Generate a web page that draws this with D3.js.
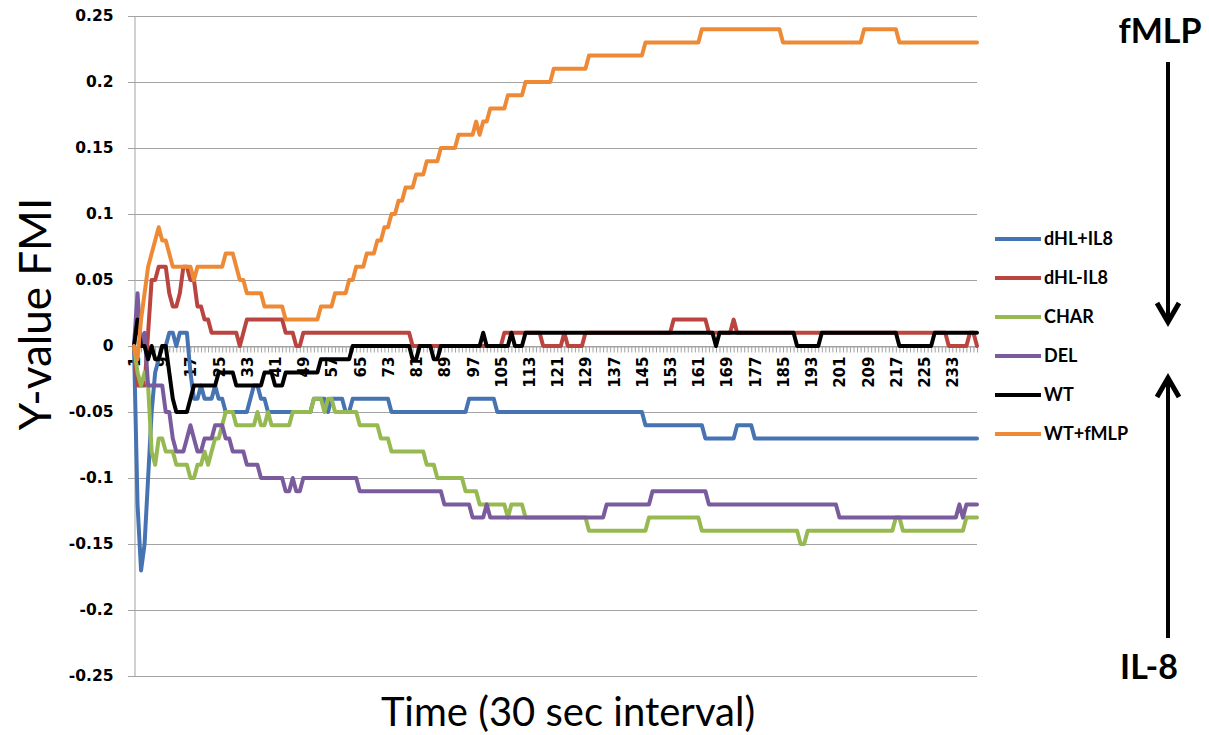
<!DOCTYPE html>
<html>
<head>
<meta charset="utf-8">
<script src="https://cdn.jsdelivr.net/npm/d3@7"></script>
<style>
  body { margin: 0; background: #fff; }
  svg { display: block; }
</style>
</head>
<body>
<svg id="chart" width="1209" height="735"></svg>
<script>
// Time points (30 sec intervals)
const timePoints = d3.range(1, 241);
const xTickLabels = [1, 9, 17, 25, 33, 41, 49, 57, 65, 73, 81, 89, 97, 105, 113, 121, 129, 137, 145, 153, 161, 169, 177, 185, 193, 201, 209, 217, 225, 233];
const yTicks = [0.25, 0.2, 0.15, 0.1, 0.05, 0, -0.05, -0.1, -0.15, -0.2, -0.25];

// FMI (y-value) per time point, one array per condition
const dHL_plus_IL8 = [
  0,-0.12,-0.17,-0.15,-0.1,-0.05,-0.02,-0.01,0,0,0.01,0.01,0,0.01,0.01,0.01,-0.02,-0.04,-0.04,-0.03,
  -0.04,-0.04,-0.04,-0.03,-0.04,-0.04,-0.05,-0.05,-0.05,-0.05,-0.05,-0.05,-0.05,-0.04,-0.03,-0.03,-0.04,-0.04,-0.05,-0.05,
  -0.05,-0.05,-0.05,-0.05,-0.05,-0.05,-0.05,-0.05,-0.05,-0.05,-0.05,-0.04,-0.04,-0.04,-0.04,-0.05,-0.04,-0.04,-0.04,-0.04,
  -0.05,-0.05,-0.04,-0.04,-0.04,-0.04,-0.04,-0.04,-0.04,-0.04,-0.04,-0.04,-0.04,-0.05,-0.05,-0.05,-0.05,-0.05,-0.05,-0.05,
  -0.05,-0.05,-0.05,-0.05,-0.05,-0.05,-0.05,-0.05,-0.05,-0.05,-0.05,-0.05,-0.05,-0.05,-0.05,-0.04,-0.04,-0.04,-0.04,-0.04,
  -0.04,-0.04,-0.04,-0.05,-0.05,-0.05,-0.05,-0.05,-0.05,-0.05,-0.05,-0.05,-0.05,-0.05,-0.05,-0.05,-0.05,-0.05,-0.05,-0.05,
  -0.05,-0.05,-0.05,-0.05,-0.05,-0.05,-0.05,-0.05,-0.05,-0.05,-0.05,-0.05,-0.05,-0.05,-0.05,-0.05,-0.05,-0.05,-0.05,-0.05,
  -0.05,-0.05,-0.05,-0.05,-0.05,-0.06,-0.06,-0.06,-0.06,-0.06,-0.06,-0.06,-0.06,-0.06,-0.06,-0.06,-0.06,-0.06,-0.06,-0.06,
  -0.06,-0.06,-0.07,-0.07,-0.07,-0.07,-0.07,-0.07,-0.07,-0.07,-0.07,-0.06,-0.06,-0.06,-0.06,-0.06,-0.07,-0.07,-0.07,-0.07,
  -0.07,-0.07,-0.07,-0.07,-0.07,-0.07,-0.07,-0.07,-0.07,-0.07,-0.07,-0.07,-0.07,-0.07,-0.07,-0.07,-0.07,-0.07,-0.07,-0.07,
  -0.07,-0.07,-0.07,-0.07,-0.07,-0.07,-0.07,-0.07,-0.07,-0.07,-0.07,-0.07,-0.07,-0.07,-0.07,-0.07,-0.07,-0.07,-0.07,-0.07,
  -0.07,-0.07,-0.07,-0.07,-0.07,-0.07,-0.07,-0.07,-0.07,-0.07,-0.07,-0.07,-0.07,-0.07,-0.07,-0.07,-0.07,-0.07,-0.07,-0.07
];

const dHL_minus_IL8 = [
  0,-0.03,-0.03,-0.03,0.01,0.05,0.05,0.06,0.06,0.06,0.04,0.03,0.03,0.04,0.06,0.06,0.05,0.05,0.03,0.03,
  0.02,0.02,0.01,0.01,0.01,0.01,0.01,0.01,0.01,0.01,0,0.01,0.02,0.02,0.02,0.02,0.02,0.02,0.02,0.02,
  0.02,0.02,0.02,0.01,0.01,0.01,0,0,0.01,0.01,0.01,0.01,0.01,0.01,0.01,0.01,0.01,0.01,0.01,0.01,
  0.01,0.01,0.01,0.01,0.01,0.01,0.01,0.01,0.01,0.01,0.01,0.01,0.01,0.01,0.01,0.01,0.01,0.01,0.01,0,
  0,0,0,0,0,0,0,0,0,0,0,0,0,0,0,0,0,0,0,0,
  0,0,0,0,0,0.01,0.01,0.01,0.01,0.01,0.01,0.01,0.01,0.01,0.01,0.01,0,0,0,0,
  0,0,0.01,0,0,0,0,0,0.01,0.01,0.01,0.01,0.01,0.01,0.01,0.01,0.01,0.01,0.01,0.01,
  0.01,0.01,0.01,0.01,0.01,0.01,0.01,0.01,0.01,0.01,0.01,0.01,0.01,0.02,0.02,0.02,0.02,0.02,0.02,0.02,
  0.02,0.02,0.02,0.01,0.01,0.01,0.01,0.01,0.01,0.01,0.02,0.01,0.01,0.01,0.01,0.01,0.01,0.01,0.01,0.01,
  0.01,0.01,0.01,0.01,0.01,0.01,0.01,0.01,0.01,0.01,0.01,0.01,0.01,0.01,0.01,0.01,0.01,0.01,0.01,0.01,
  0.01,0.01,0.01,0.01,0.01,0.01,0.01,0.01,0.01,0.01,0.01,0.01,0.01,0.01,0.01,0.01,0.01,0.01,0.01,0.01,
  0.01,0.01,0.01,0.01,0.01,0.01,0.01,0.01,0.01,0.01,0.01,0,0,0,0,0,0,0.01,0.01,0
];

const CHAR = [
  0,-0.02,-0.03,-0.02,-0.03,-0.08,-0.09,-0.07,-0.07,-0.08,-0.08,-0.08,-0.09,-0.09,-0.09,-0.09,-0.1,-0.1,-0.09,-0.09,
  -0.08,-0.09,-0.08,-0.07,-0.07,-0.06,-0.05,-0.05,-0.05,-0.06,-0.06,-0.06,-0.06,-0.06,-0.06,-0.05,-0.06,-0.06,-0.05,-0.06,
  -0.06,-0.06,-0.06,-0.06,-0.06,-0.05,-0.05,-0.05,-0.05,-0.05,-0.05,-0.04,-0.04,-0.04,-0.05,-0.04,-0.04,-0.05,-0.05,-0.05,
  -0.05,-0.05,-0.05,-0.05,-0.06,-0.06,-0.06,-0.06,-0.06,-0.06,-0.07,-0.07,-0.07,-0.08,-0.08,-0.08,-0.08,-0.08,-0.08,-0.08,
  -0.08,-0.08,-0.08,-0.09,-0.09,-0.09,-0.1,-0.1,-0.1,-0.1,-0.1,-0.1,-0.1,-0.1,-0.11,-0.11,-0.11,-0.11,-0.12,-0.12,
  -0.12,-0.12,-0.12,-0.12,-0.12,-0.12,-0.13,-0.12,-0.12,-0.12,-0.12,-0.13,-0.13,-0.13,-0.13,-0.13,-0.13,-0.13,-0.13,-0.13,
  -0.13,-0.13,-0.13,-0.13,-0.13,-0.13,-0.13,-0.13,-0.13,-0.14,-0.14,-0.14,-0.14,-0.14,-0.14,-0.14,-0.14,-0.14,-0.14,-0.14,
  -0.14,-0.14,-0.14,-0.14,-0.14,-0.14,-0.13,-0.13,-0.13,-0.13,-0.13,-0.13,-0.13,-0.13,-0.13,-0.13,-0.13,-0.13,-0.13,-0.13,
  -0.13,-0.14,-0.14,-0.14,-0.14,-0.14,-0.14,-0.14,-0.14,-0.14,-0.14,-0.14,-0.14,-0.14,-0.14,-0.14,-0.14,-0.14,-0.14,-0.14,
  -0.14,-0.14,-0.14,-0.14,-0.14,-0.14,-0.14,-0.14,-0.14,-0.15,-0.15,-0.14,-0.14,-0.14,-0.14,-0.14,-0.14,-0.14,-0.14,-0.14,
  -0.14,-0.14,-0.14,-0.14,-0.14,-0.14,-0.14,-0.14,-0.14,-0.14,-0.14,-0.14,-0.14,-0.14,-0.14,-0.14,-0.13,-0.13,-0.14,-0.14,
  -0.14,-0.14,-0.14,-0.14,-0.14,-0.14,-0.14,-0.14,-0.14,-0.14,-0.14,-0.14,-0.14,-0.14,-0.14,-0.14,-0.13,-0.13,-0.13,-0.13
];

const DEL = [
  0,0.04,0,0.01,-0.03,-0.03,-0.03,-0.03,-0.03,-0.05,-0.05,-0.07,-0.08,-0.08,-0.08,-0.07,-0.06,-0.07,-0.08,-0.08,
  -0.07,-0.07,-0.07,-0.06,-0.06,-0.06,-0.07,-0.07,-0.08,-0.08,-0.08,-0.08,-0.09,-0.09,-0.09,-0.09,-0.1,-0.1,-0.1,-0.1,
  -0.1,-0.1,-0.1,-0.11,-0.11,-0.1,-0.11,-0.11,-0.1,-0.1,-0.1,-0.1,-0.1,-0.1,-0.1,-0.1,-0.1,-0.1,-0.1,-0.1,
  -0.1,-0.1,-0.1,-0.1,-0.11,-0.11,-0.11,-0.11,-0.11,-0.11,-0.11,-0.11,-0.11,-0.11,-0.11,-0.11,-0.11,-0.11,-0.11,-0.11,
  -0.11,-0.11,-0.11,-0.11,-0.11,-0.11,-0.11,-0.11,-0.12,-0.12,-0.12,-0.12,-0.12,-0.12,-0.12,-0.12,-0.13,-0.13,-0.13,-0.13,
  -0.12,-0.13,-0.13,-0.13,-0.13,-0.13,-0.13,-0.13,-0.13,-0.13,-0.13,-0.13,-0.13,-0.13,-0.13,-0.13,-0.13,-0.13,-0.13,-0.13,
  -0.13,-0.13,-0.13,-0.13,-0.13,-0.13,-0.13,-0.13,-0.13,-0.13,-0.13,-0.13,-0.13,-0.13,-0.12,-0.12,-0.12,-0.12,-0.12,-0.12,
  -0.12,-0.12,-0.12,-0.12,-0.12,-0.12,-0.12,-0.11,-0.11,-0.11,-0.11,-0.11,-0.11,-0.11,-0.11,-0.11,-0.11,-0.11,-0.11,-0.11,
  -0.11,-0.11,-0.11,-0.12,-0.12,-0.12,-0.12,-0.12,-0.12,-0.12,-0.12,-0.12,-0.12,-0.12,-0.12,-0.12,-0.12,-0.12,-0.12,-0.12,
  -0.12,-0.12,-0.12,-0.12,-0.12,-0.12,-0.12,-0.12,-0.12,-0.12,-0.12,-0.12,-0.12,-0.12,-0.12,-0.12,-0.12,-0.12,-0.12,-0.12,
  -0.13,-0.13,-0.13,-0.13,-0.13,-0.13,-0.13,-0.13,-0.13,-0.13,-0.13,-0.13,-0.13,-0.13,-0.13,-0.13,-0.13,-0.13,-0.13,-0.13,
  -0.13,-0.13,-0.13,-0.13,-0.13,-0.13,-0.13,-0.13,-0.13,-0.13,-0.13,-0.13,-0.13,-0.13,-0.12,-0.13,-0.12,-0.12,-0.12,-0.12
];

const WT = [
  0,0.02,0,0,-0.01,0,-0.01,-0.01,0,0,-0.02,-0.04,-0.05,-0.05,-0.05,-0.05,-0.04,-0.03,-0.03,-0.03,
  -0.03,-0.03,-0.03,-0.03,-0.02,-0.02,-0.02,-0.02,-0.02,-0.03,-0.03,-0.03,-0.03,-0.03,-0.03,-0.03,-0.03,-0.02,-0.02,-0.02,
  -0.03,-0.03,-0.03,-0.02,-0.02,-0.02,-0.02,-0.02,-0.02,-0.02,-0.02,-0.02,-0.02,-0.01,-0.01,-0.01,-0.01,-0.01,-0.01,-0.01,
  -0.01,-0.01,0,0,0,0,0,0,0,0,0,0,0,0,0,0,0,0,0,-0.01,
  -0.01,0,0,0,0,-0.01,-0.01,0,0,0,0,0,0,0,0,0,0,0,0,0.01,
  0,0,0,0,0,0,0,0.01,0,0,0,0.01,0.01,0.01,0.01,0.01,0.01,0.01,0.01,0.01,
  0.01,0.01,0.01,0.01,0.01,0.01,0.01,0.01,0.01,0.01,0.01,0.01,0.01,0.01,0.01,0.01,0.01,0.01,0.01,0.01,
  0.01,0.01,0.01,0.01,0.01,0.01,0.01,0.01,0.01,0.01,0.01,0.01,0.01,0.01,0.01,0.01,0.01,0.01,0.01,0.01,
  0.01,0.01,0.01,0.01,0.01,0,0.01,0.01,0.01,0.01,0.01,0.01,0.01,0.01,0.01,0.01,0.01,0.01,0.01,0.01,
  0.01,0.01,0.01,0.01,0.01,0.01,0.01,0.01,0,0,0,0,0,0,0,0.01,0.01,0.01,0.01,0.01,
  0.01,0.01,0.01,0.01,0.01,0.01,0.01,0.01,0.01,0.01,0.01,0.01,0.01,0.01,0.01,0.01,0.01,0,0,0,
  0,0,0,0,0,0,0,0.01,0.01,0.01,0.01,0.01,0.01,0.01,0.01,0.01,0.01,0.01,0.01,0.01
];

const WT_fMLP = [
  0,-0.01,0.02,0.04,0.06,0.07,0.08,0.09,0.08,0.08,0.07,0.06,0.06,0.06,0.06,0.06,0.06,0.05,0.06,0.06,
  0.06,0.06,0.06,0.06,0.06,0.06,0.07,0.07,0.07,0.06,0.05,0.05,0.04,0.04,0.04,0.04,0.04,0.03,0.03,0.03,
  0.03,0.03,0.03,0.02,0.02,0.02,0.02,0.02,0.02,0.02,0.02,0.02,0.02,0.03,0.03,0.03,0.03,0.04,0.04,0.04,
  0.04,0.05,0.05,0.06,0.06,0.06,0.07,0.07,0.07,0.08,0.08,0.09,0.09,0.1,0.1,0.11,0.11,0.12,0.12,0.12,
  0.13,0.13,0.13,0.14,0.14,0.14,0.14,0.15,0.15,0.15,0.15,0.15,0.16,0.16,0.16,0.16,0.16,0.17,0.16,0.17,
  0.17,0.18,0.18,0.18,0.18,0.18,0.19,0.19,0.19,0.19,0.19,0.2,0.2,0.2,0.2,0.2,0.2,0.2,0.2,0.21,
  0.21,0.21,0.21,0.21,0.21,0.21,0.21,0.21,0.21,0.22,0.22,0.22,0.22,0.22,0.22,0.22,0.22,0.22,0.22,0.22,
  0.22,0.22,0.22,0.22,0.22,0.23,0.23,0.23,0.23,0.23,0.23,0.23,0.23,0.23,0.23,0.23,0.23,0.23,0.23,0.23,
  0.23,0.24,0.24,0.24,0.24,0.24,0.24,0.24,0.24,0.24,0.24,0.24,0.24,0.24,0.24,0.24,0.24,0.24,0.24,0.24,
  0.24,0.24,0.24,0.24,0.23,0.23,0.23,0.23,0.23,0.23,0.23,0.23,0.23,0.23,0.23,0.23,0.23,0.23,0.23,0.23,
  0.23,0.23,0.23,0.23,0.23,0.23,0.23,0.24,0.24,0.24,0.24,0.24,0.24,0.24,0.24,0.24,0.24,0.23,0.23,0.23,
  0.23,0.23,0.23,0.23,0.23,0.23,0.23,0.23,0.23,0.23,0.23,0.23,0.23,0.23,0.23,0.23,0.23,0.23,0.23,0.23
];

const seriesNames = ["dHL+IL8", "dHL-IL8", "CHAR", "DEL", "WT", "WT+fMLP"];
const seriesColors = ["#4673B2", "#BA4540", "#96B952", "#7A5C9E", "#000000", "#EE8A36"];
const seriesValues = [dHL_plus_IL8, dHL_minus_IL8, CHAR, DEL, WT, WT_fMLP];

const svg = d3.select("#chart");
const plotLeft = 134, plotRight = 977, plotTop = 16, plotBottom = 676;
const gridColor = "#a3a3a3";
const lineWidth = 4;

const x = d3.scalePoint().domain(timePoints).range([plotLeft, plotRight]);
const y = d3.scaleLinear().domain([-0.25, 0.25]).range([plotBottom, plotTop]);

// horizontal gridlines
svg.append("g")
  .selectAll("line")
  .data(yTicks)
  .join("line")
  .attr("x1", plotLeft - 6)
  .attr("x2", plotRight)
  .attr("y1", d => Math.round(y(d)) + 0.5)
  .attr("y2", d => Math.round(y(d)) + 0.5)
  .attr("stroke", gridColor)
  .attr("stroke-width", 1);

// y axis
const yAxis = svg.append("g")
  .attr("transform", `translate(${plotLeft + 0.5},0)`)
  .call(d3.axisLeft(y).tickValues(yTicks).tickSize(6).tickSizeOuter(0).tickPadding(15)
    .tickFormat(d => String(d)));
yAxis.select(".domain").attr("stroke", gridColor);
yAxis.selectAll(".tick line").attr("stroke", gridColor);
yAxis.selectAll(".tick text")
  .attr("fill", "#000")
  .style("font-family", "'DejaVu Sans', Verdana, sans-serif")
  .style("font-weight", "bold")
  .style("font-size", "15.5px");

// category axis crossing at zero
const labelSet = new Set(xTickLabels);
const xAxis = svg.append("g")
  .attr("transform", `translate(0,${Math.round(y(0)) + 0.5})`)
  .call(d3.axisBottom(x).tickValues(timePoints).tickSize(6).tickSizeOuter(0)
    .tickFormat(d => labelSet.has(d) ? String(d) : ""));
xAxis.select(".domain").attr("stroke", gridColor);
xAxis.selectAll(".tick line").attr("stroke", gridColor);
xAxis.selectAll(".tick text")
  .attr("fill", "#000")
  .attr("transform", "rotate(-90)")
  .attr("x", -10)
  .attr("y", 0)
  .attr("dy", "0.36em")
  .style("text-anchor", "end")
  .style("font-family", "'DejaVu Sans', Verdana, sans-serif")
  .style("font-weight", "bold")
  .style("font-size", "15px");

// series lines
const line = d3.line()
  .x((d, i) => x(timePoints[i]))
  .y(d => y(d));

svg.append("g")
  .selectAll("path")
  .data(seriesValues)
  .join("path")
  .attr("d", d => line(d))
  .attr("fill", "none")
  .attr("stroke", (d, i) => seriesColors[i])
  .attr("stroke-width", lineWidth)
  .attr("stroke-linejoin", "round")
  .attr("stroke-linecap", "round");

// legend
const legend = svg.append("g");
const legendItems = legend.selectAll("g")
  .data(seriesNames)
  .join("g")
  .attr("transform", (d, i) => `translate(995,${239 + i * 39})`);
legendItems.append("line")
  .attr("x1", 0).attr("x2", 46)
  .attr("stroke", (d, i) => seriesColors[i])
  .attr("stroke-width", lineWidth);
legendItems.append("text")
  .attr("x", 49)
  .attr("dy", "0.35em")
  .style("font-family", "Lato, 'Liberation Sans', sans-serif")
  .style("font-weight", "bold")
  .style("font-size", "18px")
  .text(d => d);

// axis titles
svg.append("text")
  .attr("x", 568)
  .attr("y", 726)
  .attr("text-anchor", "middle")
  .style("font-family", "Lato, 'Liberation Sans', sans-serif")
  .style("font-size", "40px")
  .text("Time (30 sec interval)");

svg.append("text")
  .attr("transform", "translate(51,314) rotate(-90)")
  .attr("text-anchor", "middle")
  .style("font-family", "Lato, 'Liberation Sans', sans-serif")
  .style("font-size", "44px")
  .text("Y-value FMI");

// gradient direction annotations
const notes = svg.append("g");
notes.append("text")
  .attr("x", 1160).attr("y", 43)
  .attr("text-anchor", "middle")
  .style("font-family", "Lato, 'Liberation Sans', sans-serif")
  .style("font-weight", "bold")
  .style("font-size", "34px")
  .text("fMLP");
notes.append("text")
  .attr("x", 1149).attr("y", 679)
  .attr("text-anchor", "middle")
  .style("font-family", "Lato, 'Liberation Sans', sans-serif")
  .style("font-weight", "bold")
  .style("font-size", "34px")
  .text("IL-8");

const arrowX = 1168;
notes.append("line")
  .attr("x1", arrowX).attr("x2", arrowX)
  .attr("y1", 62).attr("y2", 320)
  .attr("stroke", "#000").attr("stroke-width", 4);
notes.append("polyline")
  .attr("points", `${arrowX - 11},303 ${arrowX},322 ${arrowX + 11},303`)
  .attr("fill", "none").attr("stroke", "#000").attr("stroke-width", 5)
  .attr("stroke-linejoin", "miter");
notes.append("line")
  .attr("x1", arrowX).attr("x2", arrowX)
  .attr("y1", 380).attr("y2", 638)
  .attr("stroke", "#000").attr("stroke-width", 4);
notes.append("polyline")
  .attr("points", `${arrowX - 11},397 ${arrowX},378 ${arrowX + 11},397`)
  .attr("fill", "none").attr("stroke", "#000").attr("stroke-width", 5)
  .attr("stroke-linejoin", "miter");
</script>
</body>
</html>
